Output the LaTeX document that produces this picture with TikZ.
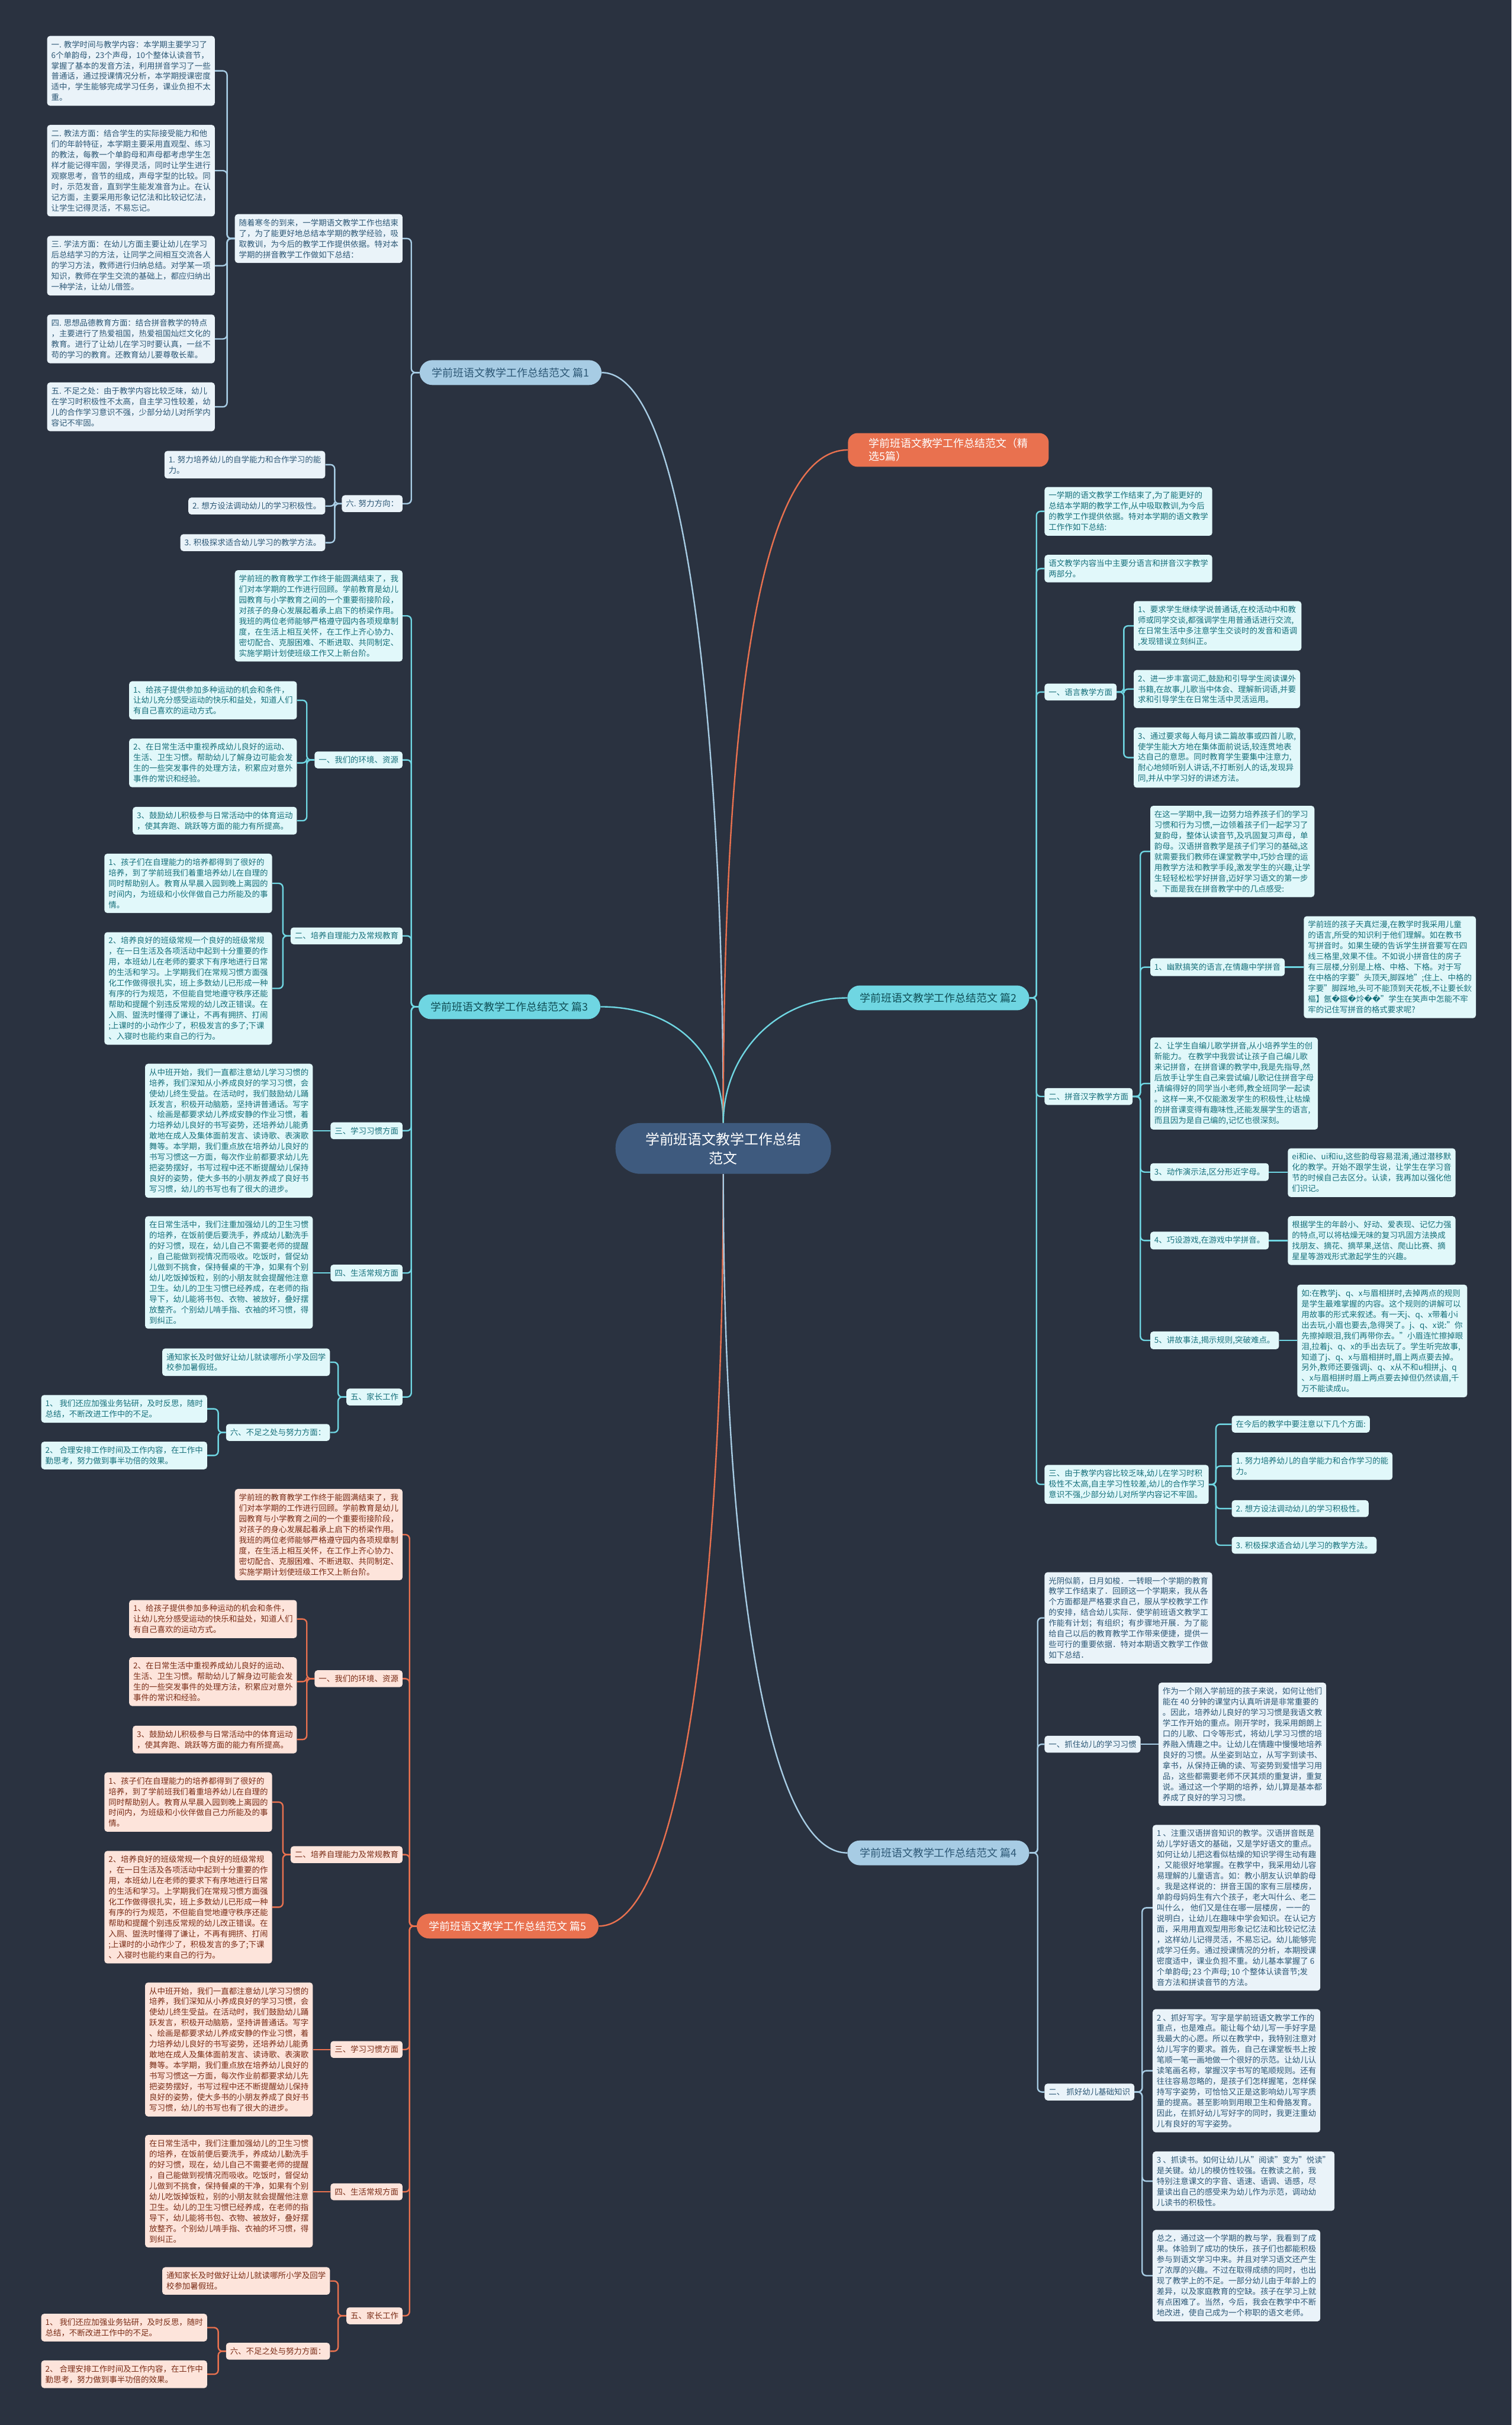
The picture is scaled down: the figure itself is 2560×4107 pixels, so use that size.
\documentclass[tikz,border=0pt]{standalone}
\usepackage{fontspec}
\setmainfont{Noto Sans CJK SC}
\newfontfamily\glyphfont{DejaVu Sans}
\usepackage{tikz}
\usetikzlibrary{backgrounds}
\definecolor{NightBg}{HTML}{2A3240}
\definecolor{HubFill}{HTML}{3E5A7E}
\definecolor{BlueWire}{HTML}{A7CCE4}
\definecolor{BlueLeaf}{HTML}{EAF3F9}
\definecolor{BlueInk}{HTML}{2D5876}
\definecolor{TealWire}{HTML}{6FD6E2}
\definecolor{TealLeaf}{HTML}{E1F8FA}
\definecolor{TealInk}{HTML}{16707B}
\definecolor{CoralWire}{HTML}{E9714F}
\definecolor{CoralLeaf}{HTML}{FDE4DB}
\definecolor{CoralInk}{HTML}{7A2C16}
\newcommand\badglyph{{\glyphfont\symbol{"FFFD}}}

\begin{document}
\begin{tikzpicture}[
  x=1pt, y=-1pt,
  kid/.style={rounded corners=5pt, align=left, inner xsep=7pt, inner ysep=8pt, font=\fontsize{13.5}{18}\selectfont},
  bluekid/.style={kid, fill=BlueLeaf, text=BlueInk},
  tealkid/.style={kid, fill=TealLeaf, text=TealInk},
  coralkid/.style={kid, fill=CoralLeaf, text=CoralInk},
  wire/.style={line width=2.4pt, rounded corners=7pt},
  bluewire/.style={wire, draw=BlueWire},
  tealwire/.style={wire, draw=TealWire},
  coralwire/.style={wire, draw=CoralWire},
  hubwire/.style={line width=2.4pt},
  branch/.style={rounded corners=21pt, minimum width=308pt, minimum height=42pt, inner sep=0pt, font=\fontsize{18}{22}\selectfont},
  hub/.style={rounded corners=42pt, fill=HubFill, text=white, align=center, minimum width=365pt, minimum height=86pt, font=\fontsize{24}{32}\selectfont}
]
\useasboundingbox (0,0) rectangle (2560,4107);
\begin{scope}[on background layer]
\fill[NightBg] (0,0) rectangle (2560,4107);
\end{scope}

% centre
\node[hub] (hub) at (1225,1945) {学前班语文教学工作总结\\范文};

% ---- left: 篇1
\node[branch, fill=BlueWire, text=BlueInk, anchor=east] (p1) at (1019,631) {学前班语文教学工作总结范文 篇1};
\node[bluekid, anchor=east] (p1i) at (682,404) {随着寒冬的到来，一学期语文教学工作也结束\\了，为了能更好地总结本学期的教学经验，吸\\取教训，为今后的教学工作提供依据。特对本\\学期的拼音教学工作做如下总结：};
\node[bluekid, anchor=east] (p1a) at (364,120) {一. 教学时间与教学内容：本学期主要学习了\\6个单韵母，23个声母，10个整体认读音节，\\掌握了基本的发音方法，利用拼音学习了一些\\普通话，通过授课情况分析，本学期授课密度\\适中，学生能够完成学习任务，课业负担不太\\重。};
\node[bluekid, anchor=east] (p1b) at (364,289) {二. 教法方面：结合学生的实际接受能力和他\\们的年龄特征，本学期主要采用直观型、练习\\的教法，每教一个单韵母和声母都考虑学生怎\\样才能记得牢固，学得灵活，同时让学生进行\\观察思考，音节的组成，声母字型的比较。同\\时，示范发音，直到学生能发准音为止。在认\\记方面，主要采用形象记忆法和比较记忆法，\\让学生记得灵活，不易忘记。};
\node[bluekid, anchor=east] (p1c) at (364,450) {三. 学法方面：在幼儿方面主要让幼儿在学习\\后总结学习的方法，让同学之间相互交流各人\\的学习方法，教师进行归纳总结。对学某一项\\知识，教师在学生交流的基础上，都应归纳出\\一种学法，让幼儿借签。};
\node[bluekid, anchor=east] (p1d) at (364,574) {四. 思想品德教育方面：结合拼音教学的特点\\，主要进行了热爱祖国，热爱祖国灿烂文化的\\教育。进行了让幼儿在学习时要认真，一丝不\\苟的学习的教育。还教育幼儿要尊敬长辈。};
\node[bluekid, anchor=east] (p1e) at (364,689) {五. 不足之处：由于教学内容比较乏味，幼儿\\在学习时积极性不太高，自主学习性较差，幼\\儿的合作学习意识不强，少部分幼儿对所学内\\容记不牢固。};
\node[bluekid, anchor=east] (p1w) at (682,853) {六. 努力方向：};
\node[bluekid, anchor=east] (p1w1) at (551,787) {1. 努力培养幼儿的自学能力和合作学习的能\\力。};
\node[bluekid, anchor=east] (p1w2) at (551,857) {2. 想方设法调动幼儿的学习积极性。};
\node[bluekid, anchor=east] (p1w3) at (551,919) {3. 积极探求适合幼儿学习的教学方法。};

% ---- left: 篇3
\node[branch, fill=TealWire, text=TealInk!70!black, anchor=east] (p3) at (1017,1705) {学前班语文教学工作总结范文 篇3};
\node[tealkid, anchor=east] (p3i) at (682,1043) {学前班的教育教学工作终于能圆满结束了，我\\们对本学期的工作进行回顾。学前教育是幼儿\\园教育与小学教育之间的一个重要衔接阶段，\\对孩子的身心发展起着承上启下的桥梁作用。\\我班的两位老师能够严格遵守园内各项规章制\\度，在生活上相互关怀，在工作上齐心协力、\\密切配合、克服困难、不断进取、共同制定、\\实施学期计划使班级工作又上新台阶。};
\node[tealkid, anchor=east] (p3a) at (682,1287) {一、我们的环境、资源};
\node[tealkid, anchor=east] (p3a1) at (503,1186) {1、给孩子提供参加多种运动的机会和条件，\\让幼儿充分感受运动的快乐和益处，知道人们\\有自己喜欢的运动方式。};
\node[tealkid, anchor=east] (p3a2) at (503,1292) {2、在日常生活中重视养成幼儿良好的运动、\\生活、卫生习惯。帮助幼儿了解身边可能会发\\生的一些突发事件的处理方法，积累应对意外\\事件的常识和经验。};
\node[tealkid, anchor=east] (p3a3) at (503,1390) {3、鼓励幼儿积极参与日常活动中的体育运动\\，使其奔跑、跳跃等方面的能力有所提高。};
\node[tealkid, anchor=east] (p3b) at (682,1585) {二、培养自理能力及常规教育};
\node[tealkid, anchor=east] (p3b1) at (461,1496) {1、孩子们在自理能力的培养都得到了很好的\\培养，到了学前班我们着重培养幼儿在自理的\\同时帮助别人。教育从早晨入园到晚上离园的\\时间内，为班级和小伙伴做自己力所能及的事\\情。};
\node[tealkid, anchor=east] (p3b2) at (461,1674) {2、培养良好的班级常规一个良好的班级常规\\，在一日生活及各项活动中起到十分重要的作\\用，本班幼儿在老师的要求下有序地进行日常\\的生活和学习。上学期我们在常规习惯方面强\\化工作做得很扎实，班上多数幼儿已形成一种\\有序的行为规范，不但能自觉地遵守秩序还能\\帮助和提醒个别违反常规的幼儿改正错误。在\\入厕、盥洗时懂得了谦让，不再有拥挤、打闹\\;上课时的小动作少了，积极发言的多了;下课\\、入寝时也能约束自己的行为。};
\node[tealkid, anchor=east] (p3c) at (682,1915) {三、学习习惯方面};
\node[tealkid, anchor=east] (p3c1) at (530,1915) {从中班开始，我们一直都注意幼儿学习习惯的\\培养，我们深知从小养成良好的学习习惯，会\\使幼儿终生受益。在活动时，我们鼓励幼儿踊\\跃发言，积极开动脑筋，坚持讲普通话。写字\\、绘画是都要求幼儿养成安静的作业习惯，着\\力培养幼儿良好的书写姿势，还培养幼儿能勇\\敢地在成人及集体面前发言、读诗歌、表演歌\\舞等。本学期，我们重点放在培养幼儿良好的\\书写习惯这一方面，每次作业前都要求幼儿先\\把姿势摆好，书写过程中还不断提醒幼儿保持\\良好的姿势，使大多书的小朋友养成了良好书\\写习惯，幼儿的书写也有了很大的进步。};
\node[tealkid, anchor=east] (p3d) at (682,2156) {四、生活常规方面};
\node[tealkid, anchor=east] (p3d1) at (530,2155) {在日常生活中，我们注重加强幼儿的卫生习惯\\的培养，在饭前便后要洗手，养成幼儿勤洗手\\的好习惯，现在，幼儿自己不需要老师的提醒\\，自己能做到视情况而吸收。吃饭时，督促幼\\儿做到不挑食，保持餐桌的干净，如果有个别\\幼儿吃饭掉饭粒，别的小朋友就会提醒他注意\\卫生。幼儿的卫生习惯已经养成，在老师的指\\导下，幼儿能将书包、衣物、被放好，叠好摆\\放整齐。个别幼儿啃手指、衣袖的坏习惯，得\\到纠正。};
\node[tealkid, anchor=east] (p3e) at (682,2366) {五、家长工作};
\node[tealkid, anchor=east] (p3e1) at (559,2307) {通知家长及时做好让幼儿就读哪所小学及回学\\校参加暑假班。};
\node[tealkid, anchor=east] (p3f) at (559,2426) {六、不足之处与努力方面：};
\node[tealkid, anchor=east] (p3f1) at (351,2386) {1、 我们还应加强业务钻研，及时反思，随时\\总结，不断改进工作中的不足。};
\node[tealkid, anchor=east] (p3f2) at (351,2465) {2、 合理安排工作时间及工作内容，在工作中\\勤思考，努力做到事半功倍的效果。};

% ---- left: 篇5
\node[branch, fill=CoralWire, text=white, anchor=east] (p5) at (1014,3262) {学前班语文教学工作总结范文 篇5};
\node[coralkid, anchor=east] (p5i) at (682,2599) {学前班的教育教学工作终于能圆满结束了，我\\们对本学期的工作进行回顾。学前教育是幼儿\\园教育与小学教育之间的一个重要衔接阶段，\\对孩子的身心发展起着承上启下的桥梁作用。\\我班的两位老师能够严格遵守园内各项规章制\\度，在生活上相互关怀，在工作上齐心协力、\\密切配合、克服困难、不断进取、共同制定、\\实施学期计划使班级工作又上新台阶。};
\node[coralkid, anchor=east] (p5a) at (682,2843) {一、我们的环境、资源};
\node[coralkid, anchor=east] (p5a1) at (503,2742) {1、给孩子提供参加多种运动的机会和条件，\\让幼儿充分感受运动的快乐和益处，知道人们\\有自己喜欢的运动方式。};
\node[coralkid, anchor=east] (p5a2) at (503,2848) {2、在日常生活中重视养成幼儿良好的运动、\\生活、卫生习惯。帮助幼儿了解身边可能会发\\生的一些突发事件的处理方法，积累应对意外\\事件的常识和经验。};
\node[coralkid, anchor=east] (p5a3) at (503,2946) {3、鼓励幼儿积极参与日常活动中的体育运动\\，使其奔跑、跳跃等方面的能力有所提高。};
\node[coralkid, anchor=east] (p5b) at (682,3141) {二、培养自理能力及常规教育};
\node[coralkid, anchor=east] (p5b1) at (461,3052) {1、孩子们在自理能力的培养都得到了很好的\\培养，到了学前班我们着重培养幼儿在自理的\\同时帮助别人。教育从早晨入园到晚上离园的\\时间内，为班级和小伙伴做自己力所能及的事\\情。};
\node[coralkid, anchor=east] (p5b2) at (461,3230) {2、培养良好的班级常规一个良好的班级常规\\，在一日生活及各项活动中起到十分重要的作\\用，本班幼儿在老师的要求下有序地进行日常\\的生活和学习。上学期我们在常规习惯方面强\\化工作做得很扎实，班上多数幼儿已形成一种\\有序的行为规范，不但能自觉地遵守秩序还能\\帮助和提醒个别违反常规的幼儿改正错误。在\\入厕、盥洗时懂得了谦让，不再有拥挤、打闹\\;上课时的小动作少了，积极发言的多了;下课\\、入寝时也能约束自己的行为。};
\node[coralkid, anchor=east] (p5c) at (682,3471) {三、学习习惯方面};
\node[coralkid, anchor=east] (p5c1) at (530,3471) {从中班开始，我们一直都注意幼儿学习习惯的\\培养，我们深知从小养成良好的学习习惯，会\\使幼儿终生受益。在活动时，我们鼓励幼儿踊\\跃发言，积极开动脑筋，坚持讲普通话。写字\\、绘画是都要求幼儿养成安静的作业习惯，着\\力培养幼儿良好的书写姿势，还培养幼儿能勇\\敢地在成人及集体面前发言、读诗歌、表演歌\\舞等。本学期，我们重点放在培养幼儿良好的\\书写习惯这一方面，每次作业前都要求幼儿先\\把姿势摆好，书写过程中还不断提醒幼儿保持\\良好的姿势，使大多书的小朋友养成了良好书\\写习惯，幼儿的书写也有了很大的进步。};
\node[coralkid, anchor=east] (p5d) at (682,3712) {四、生活常规方面};
\node[coralkid, anchor=east] (p5d1) at (530,3711) {在日常生活中，我们注重加强幼儿的卫生习惯\\的培养，在饭前便后要洗手，养成幼儿勤洗手\\的好习惯，现在，幼儿自己不需要老师的提醒\\，自己能做到视情况而吸收。吃饭时，督促幼\\儿做到不挑食，保持餐桌的干净，如果有个别\\幼儿吃饭掉饭粒，别的小朋友就会提醒他注意\\卫生。幼儿的卫生习惯已经养成，在老师的指\\导下，幼儿能将书包、衣物、被放好，叠好摆\\放整齐。个别幼儿啃手指、衣袖的坏习惯，得\\到纠正。};
\node[coralkid, anchor=east] (p5e) at (682,3922) {五、家长工作};
\node[coralkid, anchor=east] (p5e1) at (559,3863) {通知家长及时做好让幼儿就读哪所小学及回学\\校参加暑假班。};
\node[coralkid, anchor=east] (p5f) at (559,3982) {六、不足之处与努力方面：};
\node[coralkid, anchor=east] (p5f1) at (351,3942) {1、 我们还应加强业务钻研，及时反思，随时\\总结，不断改进工作中的不足。};
\node[coralkid, anchor=east] (p5f2) at (351,4021) {2、 合理安排工作时间及工作内容，在工作中\\勤思考，努力做到事半功倍的效果。};

% ---- right: 精选
\node[branch, fill=CoralWire, text=white, anchor=west, align=left, rounded corners=16pt, minimum width=340pt, minimum height=57pt, inner xsep=16pt] (px) at (1436,762) {学前班语文教学工作总结范文（精\\选5篇）};

% ---- right: 篇2
\node[branch, fill=TealWire, text=TealInk!70!black, anchor=west] (p2) at (1435,1690) {学前班语文教学工作总结范文 篇2};
\node[tealkid, anchor=west] (p2i) at (1769,866) {一学期的语文教学工作结束了,为了能更好的\\总结本学期的教学工作,从中吸取教训,为今后\\的教学工作提供依据。特对本学期的语文教学\\工作作如下总结:};
\node[tealkid, anchor=west] (p2j) at (1769,963) {语文教学内容当中主要分语言和拼音汉字教学\\两部分。};
\node[tealkid, anchor=west] (p2a) at (1769,1172) {一、语言教学方面};
\node[tealkid, anchor=west] (p2a1) at (1920,1060) {1、要求学生继续学说普通话,在校活动中和教\\师或同学交谈,都强调学生用普通话进行交流,\\在日常生活中多注意学生交谈时的发音和语调\\,发现错误立刻纠正。};
\node[tealkid, anchor=west] (p2a2) at (1920,1167) {2、进一步丰富词汇,鼓励和引导学生阅读课外\\书籍,在故事,儿歌当中体会、理解新词语,并要\\求和引导学生在日常生活中灵活运用。};
\node[tealkid, anchor=west] (p2a3) at (1920,1283) {3、通过要求每人每月读二篇故事或四首儿歌,\\使学生能大方地在集体面前说话,较连贯地表\\达自己的意思。同时教育学生要集中注意力,\\耐心地倾听别人讲话,不打断别人的话,发现异\\同,并从中学习好的讲述方法。};
\node[tealkid, anchor=west] (p2b) at (1769,1857) {二、拼音汉字教学方面};
\node[tealkid, anchor=west] (p2b0) at (1948,1442) {在这一学期中,我一边努力培养孩子们的学习\\习惯和行为习惯,一边领着孩子们一起学习了\\复韵母，整体认读音节,及巩固复习声母，单\\韵母。汉语拼音教学是孩子们学习的基础,这\\就需要我们教师在课堂教学中,巧妙合理的运\\用教学方法和教学手段,激发学生的兴趣,让学\\生轻轻松松学好拼音,迈好学习语文的第一步\\。下面是我在拼音教学中的几点感受:};
\node[tealkid, anchor=west] (p2b1) at (1948,1638) {1、幽默搞笑的语言,在情趣中学拼音};
\node[tealkid, anchor=west] (p2b1x) at (2208,1638) {学前班的孩子天真烂漫,在教学时我采用儿童\\的语言,所受的知识利于他们理解。如在教书\\写拼音时。如果生硬的告诉学生拼音要写在四\\线三格里,效果不佳。不如说小拼音住的房子\\有三层楼,分别是上格、中格、下格。对于写\\在中格的字要"头顶天,脚踩地";住上、中格的\\字要"脚踩地,头可不能顶到天花板,不让要长鈥\\樞】氬\badglyph{}攨\badglyph{}炩\badglyph\badglyph{}"学生在笑声中怎能不牢\\牢的记住写拼音的格式要求呢?};
\node[tealkid, anchor=west] (p2b2) at (1948,1835) {2、让学生自编儿歌学拼音,从小培养学生的创\\新能力。 在教学中我尝试让孩子自己编儿歌\\来记拼音，在拼音课的教学中,我是先指导,然\\后放手让学生自己来尝试编儿歌记住拼音字母\\,请编得好的同学当小老师,教全班同学一起读\\。这样一来,不仅能激发学生的积极性,让枯燥\\的拼音课变得有趣味性,还能发展学生的语言,\\而且因为是自己编的,记忆也很深刻。};
\node[tealkid, anchor=west] (p2b3) at (1948,1985) {3、动作演示法,区分形近字母。};
\node[tealkid, anchor=west] (p2b3x) at (2181,1986) {ei和ie、ui和iu,这些韵母容易混淆,通过潜移默\\化的教学。开始不跟学生说，让学生在学习音\\节的时候自己去区分。认读，我再加以强化他\\们识记。};
\node[tealkid, anchor=west] (p2b4) at (1948,2101) {4、巧设游戏,在游戏中学拼音。};
\node[tealkid, anchor=west] (p2b4x) at (2181,2101) {根据学生的年龄小、好动、爱表现、记忆力强\\的特点,可以将枯燥无味的复习巩固方法换成\\找朋友、摘花、摘苹果,送信、爬山比赛、摘\\星星等游戏形式激起学生的兴趣。};
\node[tealkid, anchor=west] (p2b5) at (1948,2270) {5、讲故事法,揭示规则,突破难点。};
\node[tealkid, anchor=west] (p2b5x) at (2197,2271) {如:在教学j、q、x与眉相拼时,去掉两点的规则\\是学生最难掌握的内容。这个规则的讲解可以\\用故事的形式来叙述。有一天j、q、x带着小i\\出去玩,小眉也要去,急得哭了。j、q、x说:"你\\先擦掉眼泪,我们再带你去。"小眉连忙擦掉眼\\泪,拉着j、q、x的手出去玩了。学生听完故事,\\知道了j、q、x与眉相拼时,眉上两点要去掉。\\另外,教师还要强调j、q、x从不和u相拼,j、q\\、x与眉相拼时眉上两点要去掉但仍然读眉,千\\万不能读成u。};
\node[tealkid, anchor=west] (p2c) at (1769,2514) {三、由于教学内容比较乏味,幼儿在学习时积\\极性不太高,自主学习性较差,幼儿的合作学习\\意识不强,少部分幼儿对所学内容记不牢固。};
\node[tealkid, anchor=west] (p2c1) at (2086,2412) {在今后的教学中要注意以下几个方面:};
\node[tealkid, anchor=west] (p2c2) at (2086,2483) {1. 努力培养幼儿的自学能力和合作学习的能\\力。};
\node[tealkid, anchor=west] (p2c3) at (2086,2555) {2. 想方设法调动幼儿的学习积极性。};
\node[tealkid, anchor=west] (p2c4) at (2086,2617) {3. 积极探求适合幼儿学习的教学方法。};

% ---- right: 篇4
\node[branch, fill=BlueWire, text=BlueInk, anchor=west] (p4) at (1435,3138) {学前班语文教学工作总结范文 篇4};
\node[bluekid, anchor=west] (p4i) at (1769,2740) {光阴似箭，日月如梭．一转眼一个学期的教育\\教学工作结束了．回顾这一个学期来，我从各\\个方面都是严格要求自己，服从学校教学工作\\的安排，结合幼儿实际．使学前班语文教学工\\作能有计划；有组织；有步骤地开展．为了能\\给自己以后的教育教学工作带来便捷，提供一\\些可行的重要依据．特对本期语文教学工作做\\如下总结．};
\node[bluekid, anchor=west] (p4a) at (1769,2954) {一、抓住幼儿的学习习惯};
\node[bluekid, anchor=west] (p4a1) at (1962,2954) {作为一个刚入学前班的孩子来说，如何让他们\\能在 40 分钟的课堂内认真听讲是非常重要的\\。因此，培养幼儿良好的学习习惯是我语文教\\学工作开始的重点。刚开学时，我采用朗朗上\\口的儿歌、口令等形式，将幼儿学习习惯的培\\养融入情趣之中。让幼儿在情趣中慢慢地培养\\良好的习惯。从坐姿到站立，从写字到读书、\\拿书，从保持正确的读、写姿势到爱惜学习用\\品，这些都需要老师不厌其烦的重复讲，重复\\说。通过这一个学期的培养，幼儿算是基本都\\养成了良好的学习习惯。};
\node[bluekid, anchor=west] (p4b) at (1769,3543) {二、 抓好幼儿基础知识};
\node[bluekid, anchor=west] (p4b1) at (1952,3231) {1 、注重汉语拼音知识的教学。汉语拼音既是\\幼儿学好语文的基础，又是学好语文的重点。\\如何让幼儿把这看似枯燥的知识学得生动有趣\\，又能很好地掌握。在教学中，我采用幼儿容\\易理解的儿童语言。如：教小朋友认识单韵母\\。我是这样说的：拼音王国的家有三层楼房，\\单韵母妈妈生有六个孩子，老大叫什么、老二\\叫什么， 他们又是住在哪一层楼房，一一的\\说明白，让幼儿在趣味中学会知识。在认记方\\面，采用用直观型用形象记忆法和比较记忆法\\，这样幼儿记得灵活，不易忘记。幼儿能够完\\成学习任务。通过授课情况的分析，本期授课\\密度适中，课业负担不重。幼儿基本掌握了 6\\ 个单韵母; 23 个声母; 10 个整体认读音节;发\\音方法和拼读音节的方法。};
\node[bluekid, anchor=west] (p4b2) at (1952,3507) {2 、抓好写字。写字是学前班语文教学工作的\\重点，也是难点。能让每个幼儿写一手好字是\\我最大的心愿。所以在教学中，我特别注意对\\幼儿写字的要求。首先，自己在课堂板书上按\\笔顺一笔一画地做一个很好的示范。让幼儿认\\读笔画名称，掌握汉字书写的笔顺规则。还有\\往往容易忽略的，是孩子们怎样握笔，怎样保\\持写字姿势，可恰恰又正是这影响幼儿写字质\\量的提高。甚至影响到用眼卫生和骨胳发育。\\因此，在抓好幼儿写好字的同时，我更注重幼\\儿有良好的写字姿势。};
\node[bluekid, anchor=west] (p4b3) at (1952,3694) {3 、抓读书。如何让幼儿从"阅读"变为"悦读"\\是关键。幼儿的模仿性较强。在教读之前，我\\特别注意课文的字音、语速、语调、语感，尽\\量读出自己的感受来为幼儿作为示范，调动幼\\儿读书的积极性。};
\node[bluekid, anchor=west] (p4b4) at (1952,3854) {总之，通过这一个学期的教与学，我看到了成\\果。体验到了成功的快乐，孩子们也都能积极\\参与到语文学习中来。并且对学习语文还产生\\了浓厚的兴趣。不过在取得成绩的同时，也出\\现了教学上的不足。一部分幼儿由于年龄上的\\差异，以及家庭教育的空缺。孩子在学习上就\\有点困难了。当然，今后，我会在教学中不断\\地改进，使自己成为一个称职的语文老师。};

\begin{scope}[on background layer]
% hub to branches
\draw[hubwire, BlueWire] (p1.east) .. controls (1170,631) and (1225,1300) .. (hub.north);
\draw[hubwire, TealWire] (p3.east) .. controls (1150,1705) and (1225,1790) .. (hub.north);
\draw[hubwire, CoralWire] (px.west) .. controls (1270,762) and (1225,1300) .. (hub.north);
\draw[hubwire, TealWire] (p2.west) .. controls (1310,1690) and (1225,1790) .. (hub.north);
\draw[hubwire, CoralWire] (p5.east) .. controls (1170,3262) and (1225,2600) .. (hub.south);
\draw[hubwire, BlueWire] (p4.west) .. controls (1290,3138) and (1225,2600) .. (hub.south);
% 篇1
\foreach \k in {p1i,p1w} \draw[bluewire] (p1.west) -- ++(-14,0) |- (\k.east);
\foreach \k in {p1a,p1b,p1c,p1d,p1e} \draw[bluewire] (p1i.west) -- ++(-13,0) |- (\k.east);
\foreach \k in {p1w1,p1w2,p1w3} \draw[bluewire] (p1w.west) -- ++(-12,0) |- (\k.east);
% 篇3
\foreach \k in {p3i,p3a,p3b,p3c,p3d,p3e} \draw[tealwire] (p3.west) -- ++(-12,0) |- (\k.east);
\foreach \k in {p3a1,p3a2,p3a3} \draw[tealwire] (p3a.west) -- ++(-13,0) |- (\k.east);
\foreach \k in {p3b1,p3b2} \draw[tealwire] (p3b.west) -- ++(-13,0) |- (\k.east);
\draw[tealwire] (p3c.west) -- (p3c.west -| p3c1.east);
\draw[tealwire] (p3d.west) -- (p3d.west -| p3d1.east);
\foreach \k in {p3e1,p3f} \draw[tealwire] (p3e.west) -- ++(-14,0) |- (\k.east);
\foreach \k in {p3f1,p3f2} \draw[tealwire] (p3f.west) -- ++(-13,0) |- (\k.east);
% 篇5
\foreach \k in {p5i,p5a,p5b,p5c,p5d,p5e} \draw[coralwire] (p5.west) -- ++(-12,0) |- (\k.east);
\foreach \k in {p5a1,p5a2,p5a3} \draw[coralwire] (p5a.west) -- ++(-13,0) |- (\k.east);
\foreach \k in {p5b1,p5b2} \draw[coralwire] (p5b.west) -- ++(-13,0) |- (\k.east);
\draw[coralwire] (p5c.west) -- (p5c.west -| p5c1.east);
\draw[coralwire] (p5d.west) -- (p5d.west -| p5d1.east);
\foreach \k in {p5e1,p5f} \draw[coralwire] (p5e.west) -- ++(-14,0) |- (\k.east);
\foreach \k in {p5f1,p5f2} \draw[coralwire] (p5f.west) -- ++(-13,0) |- (\k.east);
% 篇2
\foreach \k in {p2i,p2j,p2a,p2b,p2c} \draw[tealwire] (p2.east) -- ++(12,0) |- (\k.west);
\foreach \k in {p2a1,p2a2,p2a3} \draw[tealwire] (p2a.east) -- ++(12,0) |- (\k.west);
\foreach \k in {p2b0,p2b1,p2b2,p2b3,p2b4,p2b5} \draw[tealwire] (p2b.east) -- ++(13,0) |- (\k.west);
\draw[tealwire] (p2b1.east) -- (p2b1.east -| p2b1x.west);
\draw[tealwire] (p2b3.east) -- (p2b3.east -| p2b3x.west);
\draw[tealwire] (p2b4.east) -- (p2b4.east -| p2b4x.west);
\draw[tealwire] (p2b5.east) -- (p2b5.east -| p2b5x.west);
\foreach \k in {p2c1,p2c2,p2c3,p2c4} \draw[tealwire] (p2c.east) -- ++(12,0) |- (\k.west);
% 篇4
\foreach \k in {p4i,p4a,p4b} \draw[bluewire] (p4.east) -- ++(14,0) |- (\k.west);
\draw[bluewire] (p4a.east) -- (p4a.east -| p4a1.west);
\foreach \k in {p4b1,p4b2,p4b3,p4b4} \draw[bluewire] (p4b.east) -- ++(13,0) |- (\k.west);
\end{scope}
\end{tikzpicture}
\end{document}
